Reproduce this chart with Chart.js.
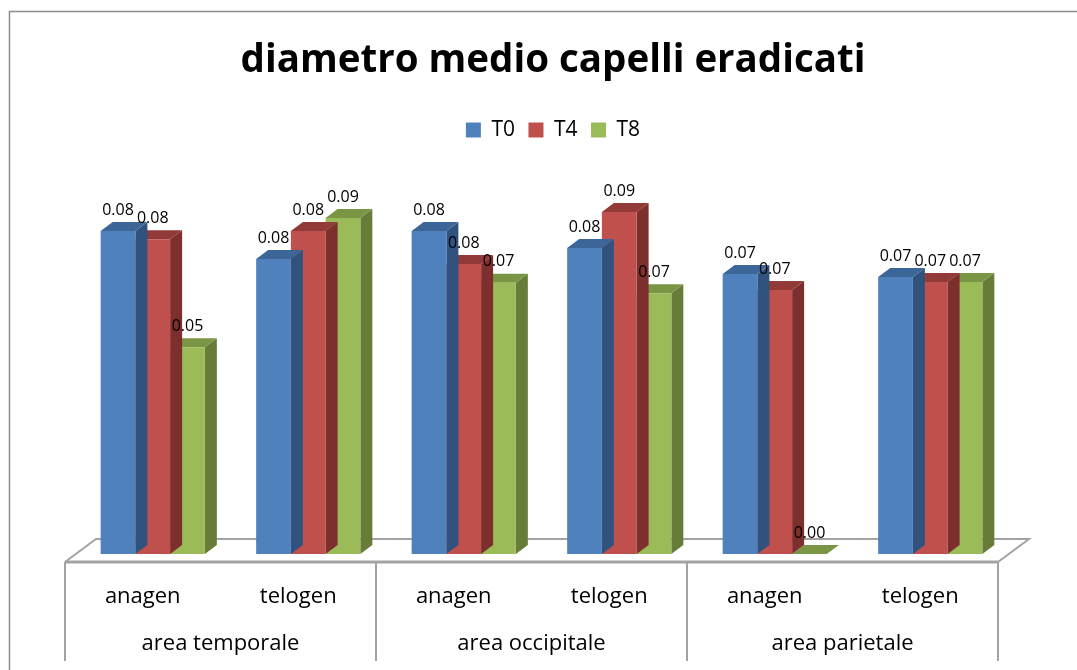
<!DOCTYPE html>
<html>
<head>
<meta charset="utf-8">
<script src="https://cdn.jsdelivr.net/npm/chart.js@4.4.1/dist/chart.umd.min.js"></script>
<style>
  html, body { margin: 0; padding: 0; background: #fff; }
  #wrap { width: 1077px; height: 670px; position: relative; }
</style>
</head>
<body>
<div id="wrap"><canvas id="hairChart" width="1077" height="670"></canvas></div>
<script>
const areas = ["area temporale", "area occipitale", "area parietale"];
const phases = ["anagen", "telogen"];
const t0 = [0.0843, 0.0770, 0.0843, 0.0799, 0.0731, 0.0723];
const t4 = [0.0822, 0.0843, 0.0757, 0.0893, 0.0689, 0.0710];
const t8 = [0.0540, 0.0877, 0.0708, 0.0681, 0.0000, 0.0710];

const labels = [];
areas.forEach(() => phases.forEach(p => labels.push(p)));

const FONT = "'Open Sans', 'Noto Sans', sans-serif";
// depth of the bars and of the floor (x, y shift of the back faces)
const DX = 12, DY = -9;
const FLOOR_FRONT = { dx: -10, dy: 8 };
const FLOOR_BACK = { dx: 21, dy: -15 };
const LINE = "#a3a3a3";

const poly = (c, pts, fill) => {
  c.beginPath();
  c.moveTo(pts[0][0], pts[0][1]);
  pts.slice(1).forEach(p => c.lineTo(p[0], p[1]));
  c.closePath();
  c.fillStyle = fill;
  c.fill();
};

/* floor, side and top faces of the 3D columns */
const bars3d = {
  id: "bars3d",
  beforeDatasetsDraw(chart) {
    const { ctx: c, chartArea: a } = chart;
    const yb = chart.scales.y.getPixelForValue(0);
    const fl = a.left + FLOOR_FRONT.dx, fr = a.right + FLOOR_FRONT.dx, fy = yb + FLOOR_FRONT.dy;
    const bl = a.left + FLOOR_BACK.dx, br = a.right + FLOOR_BACK.dx, by = yb + FLOOR_BACK.dy;
    c.save();
    c.strokeStyle = LINE;
    c.lineWidth = 2;
    c.beginPath();
    c.moveTo(fl, fy); c.lineTo(bl, by); c.lineTo(br, by); c.lineTo(fr, fy);
    c.stroke();
    c.lineWidth = 3;
    c.beginPath();
    c.moveTo(fl, fy); c.lineTo(fr, fy);
    c.stroke();
    c.restore();
  },
  beforeDatasetDraw(chart, args) {
    const c = chart.ctx;
    const ds = chart.data.datasets[args.index];
    c.save();
    args.meta.data.forEach(bar => {
      const { x, y, base, width } = bar.getProps(["x", "y", "base", "width"], true);
      const l = x - width / 2, r = x + width / 2;
      poly(c, [[r, y], [r + DX, y + DY], [r + DX, base + DY], [r, base]], ds.sideColor);
      poly(c, [[l, y], [l + DX, y + DY], [r + DX, y + DY], [r, y]], ds.topColor);
    });
    c.restore();
  },
  afterDatasetsDraw(chart) {
    const c = chart.ctx;
    c.save();
    c.font = "16px " + FONT;
    c.fillStyle = "#000";
    c.textAlign = "center";
    c.textBaseline = "middle";
    chart.data.datasets.forEach((ds, i) => {
      chart.getDatasetMeta(i).data.forEach((bar, j) => {
        c.fillText(ds.data[j].toFixed(2), bar.x, bar.y - 21);
      });
    });
    c.restore();
  }
};

/* two-level category table under the floor, plus the outer frame */
const categoryTable = {
  id: "categoryTable",
  afterDraw(chart) {
    const c = chart.ctx;
    const x = chart.scales.x;
    const n = labels.length;
    const step = (x.right - x.left) / n;
    const top = chart.scales.y.getPixelForValue(0) + FLOOR_FRONT.dy;
    const bottom = 661;
    const left = x.left + FLOOR_FRONT.dx;
    c.save();
    c.strokeStyle = LINE;
    c.lineWidth = 2;
    for (let g = 0; g <= areas.length; g++) {
      const gx = left + g * phases.length * step;
      c.beginPath();
      c.moveTo(gx, top);
      c.lineTo(gx, bottom);
      c.stroke();
    }
    c.fillStyle = "#000";
    c.textAlign = "center";
    c.textBaseline = "middle";
    c.font = "22px " + FONT;
    labels.forEach((lab, i) => c.fillText(lab, left + (i + 0.5) * step, top + 35));
    areas.forEach((ar, g) => {
      c.fillText(ar, left + (g + 0.5) * phases.length * step, top + 82);
    });
    // chart frame
    c.strokeStyle = "#8c8c8c";
    c.lineWidth = 1.5;
    c.beginPath();
    c.moveTo(9.5, chart.height);
    c.lineTo(9.5, 11.5);
    c.lineTo(chart.width, 11.5);
    c.stroke();
    c.restore();
  }
};

new Chart(document.getElementById("hairChart"), {
  type: "bar",
  data: {
    labels: labels,
    datasets: [
      { label: "T0", data: t0, backgroundColor: "#4f81bd", sideColor: "#30527d", topColor: "#3d6698" },
      { label: "T4", data: t4, backgroundColor: "#c0504d", sideColor: "#7c2f2d", topColor: "#913a37" },
      { label: "T8", data: t8, backgroundColor: "#9bbb59", sideColor: "#667c38", topColor: "#7a9543" }
    ]
  },
  options: {
    responsive: false,
    animation: false,
    devicePixelRatio: 1,
    layout: { padding: { left: 75, right: 46, bottom: 116, top: 0 } },
    datasets: {
      bar: { categoryPercentage: 0.67, barPercentage: 1, borderWidth: 0 }
    },
    plugins: {
      title: {
        display: true,
        text: "diametro medio capelli eradicati",
        color: "#000",
        font: { family: FONT, size: 38.5, weight: "bold" },
        padding: { top: 38, bottom: 21.8 }
      },
      legend: {
        position: "top",
        labels: {
          boxWidth: 15,
          boxHeight: 15,
          padding: 13.5,
          color: "#000",
          font: { family: FONT, size: 21 }
        }
      },
      tooltip: { enabled: false }
    },
    scales: {
      x: { display: false },
      // invisible strip on the right keeps the plot where it is while the heading sits a bit further right
      y: {
        position: "right",
        min: 0,
        max: 0.10535,
        grid: { display: false },
        border: { display: false },
        ticks: { display: false },
        afterFit: s => { s.width = 23; }
      }
    }
  },
  plugins: [bars3d, categoryTable]
});
</script>
</body>
</html>
